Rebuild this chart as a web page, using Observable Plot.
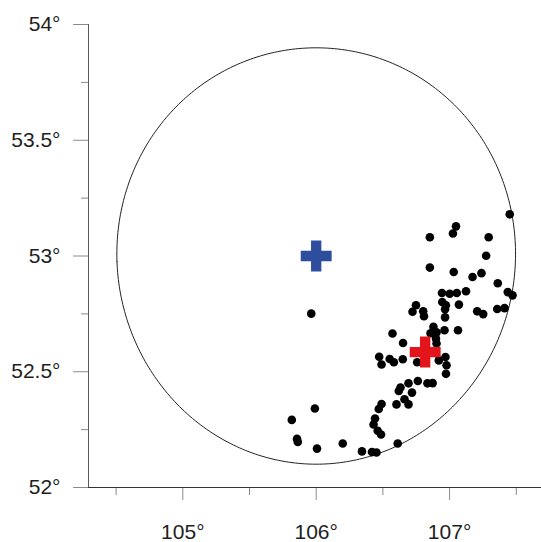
<!DOCTYPE html>
<html>
<head>
<meta charset="utf-8">
<script src="https://cdn.jsdelivr.net/npm/d3@7"></script>
<script src="https://cdn.jsdelivr.net/npm/@observablehq/plot@0.6"></script>
<style>
  html, body { margin: 0; padding: 0; background: #fff; }
  #chart svg { display: block; font-family: "Liberation Sans", Arial, sans-serif; }
</style>
</head>
<body>
<div id="chart"></div>
<script>
// Axis ticks (degrees)
const lonTicks = [105, 106, 107];
const lonMinorTicks = [104.5, 105.5, 106.5, 107.5];
const latTicks = [52, 52.5, 53, 53.5, 54];
const latMinorTicks = [52.25, 52.75, 53.25, 53.75];

// Event epicentres (longitude, latitude)
const eventLon = [
  107.451, 107.048, 107.025, 106.852, 107.293, 107.274, 106.852, 107.031, 107.172, 107.239,
  107.361, 107.436, 107.472, 106.943, 107.001, 107.054, 107.123, 106.945, 106.972, 107.070,
  106.748, 106.722, 106.802, 106.808, 106.966, 106.966, 107.207, 107.252, 107.357, 107.412,
  105.963, 106.962, 107.063, 106.879, 106.857, 106.902, 106.898, 106.902, 106.572, 106.651,
  106.472, 106.490, 106.551, 106.582, 106.649, 106.757, 106.919, 106.969, 106.977, 106.973,
  106.762, 106.834, 106.873, 106.692, 106.632, 106.619, 106.718, 106.662, 106.692, 106.602,
  106.490, 106.469, 106.441, 106.430, 106.461, 106.486, 105.990, 105.817, 105.856, 105.862,
  106.006, 106.199, 106.343, 106.418, 106.452, 106.611
];
const eventLat = [
  53.180, 53.128, 53.097, 53.081, 53.081, 53.001, 52.950, 52.931, 52.909, 52.926,
  52.882, 52.844, 52.830, 52.840, 52.837, 52.840, 52.848, 52.801, 52.787, 52.790,
  52.787, 52.759, 52.761, 52.740, 52.770, 52.735, 52.761, 52.749, 52.771, 52.775,
  52.751, 52.679, 52.679, 52.694, 52.666, 52.670, 52.643, 52.622, 52.665, 52.624,
  52.565, 52.531, 52.555, 52.541, 52.554, 52.541, 52.549, 52.564, 52.528, 52.491,
  52.460, 52.450, 52.451, 52.450, 52.432, 52.417, 52.410, 52.381, 52.359, 52.359,
  52.361, 52.339, 52.298, 52.272, 52.245, 52.229, 52.341, 52.292, 52.210, 52.197,
  52.168, 52.190, 52.156, 52.153, 52.151, 52.190
];

// Reference points
const blueLon = [106.0], blueLat = [53.0];
const redLon = [106.817], redLat = [52.585];

// Circle: 100 km around the blue point
const circleCenter = [106.0, 53.0];
const circleRadiusKm = 100;

const events = eventLon.map((lon, i) => ({lon, lat: eventLat[i]}));
const blue = blueLon.map((lon, i) => ({lon, lat: blueLat[i]}));
const red = redLon.map((lon, i) => ({lon, lat: redLat[i]}));
const radiusDeg = circleRadiusKm / 6371 * 180 / Math.PI;
const ring = d3.geoCircle().center(circleCenter).radius(radiusDeg).precision(1)().coordinates[0];

const deg = d => d + "°";
const axisColor = "#5a5a5a";
const tickColor = "#8a8a8a";
const textColor = "#1e1e1e";

const chart = Plot.plot({
  width: 541,
  height: 542,
  marginLeft: 88,
  marginRight: 0,
  marginTop: 24,
  marginBottom: 55,
  x: {domain: [104.293, 107.689], label: null},
  y: {domain: [52, 54], label: null},
  style: {fontFamily: "'Liberation Sans', Arial, sans-serif", background: "#fff"},
  marks: [
    // axes
    Plot.axisY({ticks: latTicks, tickSize: 15, tickPadding: 13, tickFormat: deg, fontSize: 21, stroke: tickColor, fill: textColor}),
    Plot.axisY({ticks: latMinorTicks, tickSize: 7, tickFormat: () => "", stroke: tickColor}),
    Plot.axisX({ticks: lonTicks, tickSize: 13, tickPadding: 24, tickFormat: deg, fontSize: 21, stroke: tickColor, fill: textColor}),
    Plot.axisX({ticks: lonMinorTicks, tickSize: 8, tickFormat: () => "", stroke: tickColor}),
    Plot.ruleX([104.293], {y1: 52, y2: 54, stroke: axisColor, strokeWidth: 1}),
    Plot.ruleY([52], {stroke: "#333", strokeWidth: 1}),
    // circle
    Plot.line(ring, {x: d => d[0], y: d => d[1], stroke: "#222", strokeWidth: 1}),
    // events
    Plot.dot(events, {x: "lon", y: "lat", r: 4.3, fill: "#000"}),
    // crosses
    Plot.dot(blue, {x: "lon", y: "lat", symbol: "cross", r: 13, fill: "#2e4d9c"}),
    Plot.dot(red, {x: "lon", y: "lat", symbol: "cross", r: 13, fill: "#e3141c"})
  ]
});
document.getElementById("chart").appendChild(chart);
</script>
</body>
</html>
